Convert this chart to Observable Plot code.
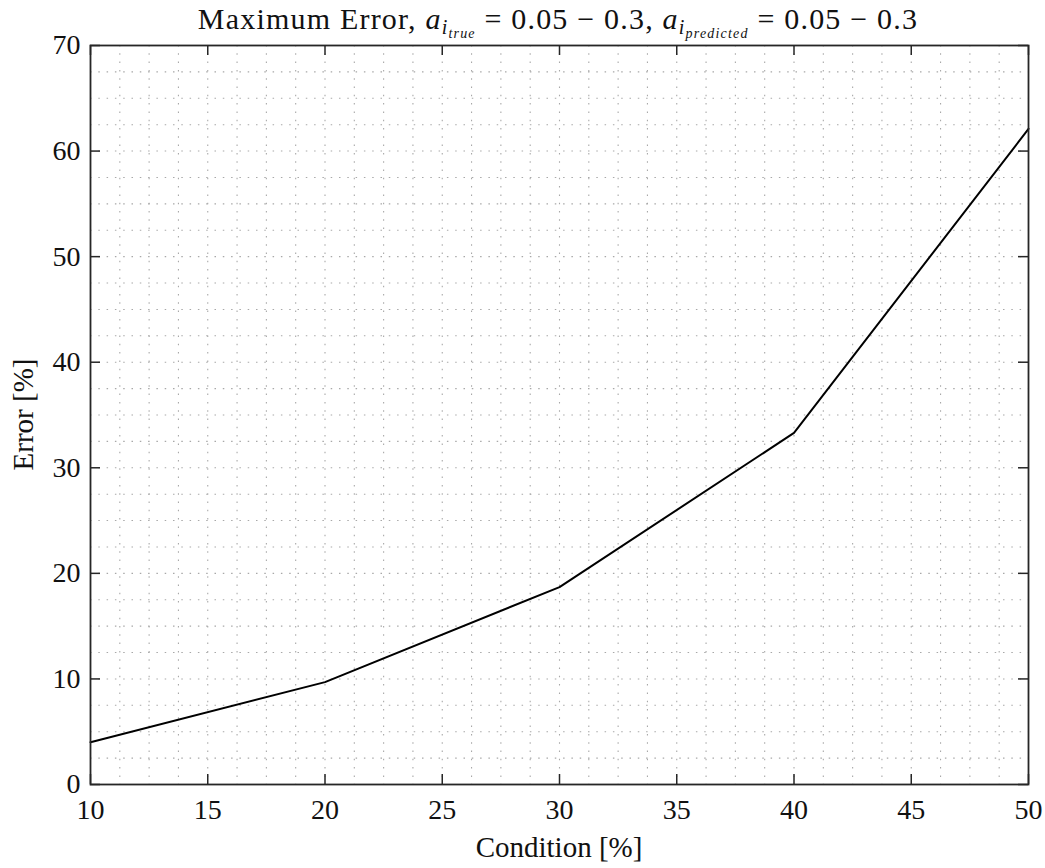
<!DOCTYPE html>
<html><head><meta charset="utf-8">
<script src="https://cdn.jsdelivr.net/npm/d3@7"></script>
<script src="https://cdn.jsdelivr.net/npm/@observablehq/plot@0.6"></script>
<style>body{margin:0;background:#fff} svg{display:block} svg text{font-family:"Liberation Serif",serif !important}</style>
</head><body><div id="chart"></div>
<script>
// Data
const condition = [10, 20, 30, 40, 50];
const errorPct = [4.0, 9.7, 18.7, 33.3, 62.1];
// Major ticks
const xTicks = [10, 15, 20, 25, 30, 35, 40, 45, 50];
const yTicks = [0, 10, 20, 30, 40, 50, 60, 70];
// Minor (dotted) grid positions
const xGrid = [11.25, 12.5, 13.75, 15, 16.25, 17.5, 18.75, 20, 21.25, 22.5, 23.75, 25, 26.25, 27.5, 28.75, 30, 31.25, 32.5, 33.75, 35, 36.25, 37.5, 38.75, 40, 41.25, 42.5, 43.75, 45, 46.25, 47.5, 48.75];
const yGrid = [2.5, 5, 7.5, 10, 12.5, 15, 17.5, 20, 22.5, 25, 27.5, 30, 32.5, 35, 37.5, 40, 42.5, 45, 47.5, 50, 52.5, 55, 57.5, 60, 62.5, 65, 67.5];

const data = condition.map((c, i) => ({condition: c, error: errorPct[i]}));

const W = 1045, H = 868;
const mT = 45, mL = 90, mR = 17, mB = 84;
const plotW = W - mL - mR, plotH = H - mT - mB;
const tickLen = 10;
const axisColor = "#262626";
const fontFam = "Liberation Serif";

const chart = Plot.plot({
  width: W, height: H,
  marginTop: mT, marginLeft: mL, marginRight: mR, marginBottom: mB,
  style: {fontFamily: fontFam, background: "white", color: axisColor},
  x: {domain: [10, 50]},
  y: {domain: [0, 70]},
  marks: [
    Plot.ruleX(xGrid, {x: d => d, stroke: "#a8a8a8", strokeWidth: 1.1, strokeDasharray: "1.5,6.8"}),
    Plot.ruleY(yGrid, {y: d => d, stroke: "#a8a8a8", strokeWidth: 1.1, strokeDasharray: "1.5,6.8"}),
    Plot.line(data, {x: "condition", y: "error", stroke: "#000", strokeWidth: 2}),
    // inward ticks, bottom & top
    Plot.ruleX(xTicks, {x: d => d, insetTop: plotH - tickLen, stroke: axisColor, strokeWidth: 1.5}),
    Plot.ruleX(xTicks, {x: d => d, insetBottom: plotH - tickLen, stroke: axisColor, strokeWidth: 1.5}),
    // inward ticks, left & right
    Plot.ruleY(yTicks, {y: d => d, insetRight: plotW - tickLen, stroke: axisColor, strokeWidth: 1.5}),
    Plot.ruleY(yTicks, {y: d => d, insetLeft: plotW - tickLen, stroke: axisColor, strokeWidth: 1.5}),
    Plot.frame({stroke: axisColor, strokeWidth: 1.8}),
    Plot.axisX(xTicks, {tickSize: 0, tickPadding: 15, fontSize: 28, label: null, fill: "#111"}),
    Plot.axisY(yTicks, {tickSize: 0, tickPadding: 10, fontSize: 28, label: null, fill: "#111"})
  ]
});

const svg = d3.select(chart);
// X label
svg.append("text")
  .attr("x", mL + plotW / 2).attr("y", 857)
  .attr("text-anchor", "middle")
  .attr("font-size", 29).attr("fill", "#111")
  .text("Condition [%]");
// Y label
svg.append("text")
  .attr("transform", `translate(33,${mT + plotH / 2}) rotate(-90)`)
  .attr("text-anchor", "middle")
  .attr("font-size", 29).attr("fill", "#111")
  .text("Error [%]");
// Title
const t = svg.append("text")
  .attr("x", 558).attr("y", 29)
  .attr("text-anchor", "middle")
  .attr("font-size", 30).attr("fill", "#111")
  .attr("letter-spacing", 1.2)
  .style("white-space", "pre");
t.append("tspan").text("Maximum Error, ");
t.append("tspan").attr("font-style", "italic").text("a");
t.append("tspan").attr("font-style", "italic").attr("font-size", 20).attr("dy", 5).text("i");
t.append("tspan").attr("font-style", "italic").attr("font-size", 14).attr("dy", 4).text("true");
t.append("tspan").attr("font-size", 30).attr("dy", -9).text(" = 0.05 \u2212 0.3, ");
t.append("tspan").attr("font-style", "italic").text("a");
t.append("tspan").attr("font-style", "italic").attr("font-size", 20).attr("dy", 5).text("i");
t.append("tspan").attr("font-style", "italic").attr("font-size", 14).attr("dy", 4).text("predicted");
t.append("tspan").attr("font-size", 30).attr("dy", -9).text(" = 0.05 \u2212 0.3");

svg.selectAll("text").attr("font-family", fontFam);

document.getElementById("chart").appendChild(chart);
</script>
</body></html>
